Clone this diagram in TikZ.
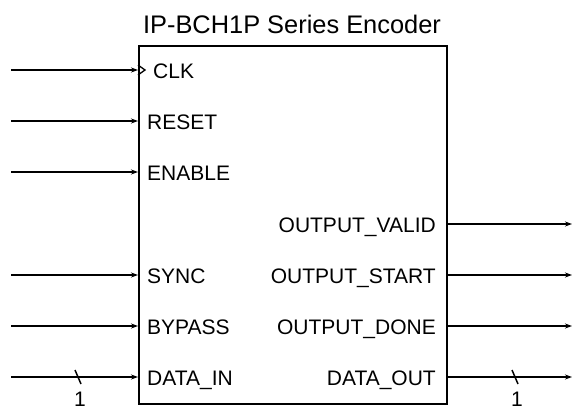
\documentclass[tikz,border=0pt]{standalone}
\usepackage{fontspec}
\setmainfont{Liberation Sans}
\usetikzlibrary{arrows.meta}
\begin{document}
\begin{tikzpicture}[x=1pt,y=-1pt,
  wire/.style={line width=1.5pt,-{Stealth[length=7pt,width=5pt]}},
  lbl/.style={inner sep=0pt,font=\fontsize{21}{21}\selectfont},
  busmark/.style={line width=1.5pt},
  busnum/.style={inner sep=0pt,font=\fontsize{21}{21}\selectfont}]
\useasboundingbox (0,0) rectangle (575,405);
% title
\node[inner sep=0pt,font=\fontsize{25.4}{25.4}\selectfont,anchor=base] (title) at (292,33) {IP-BCH1P Series Encoder};
% block
\node[draw,line width=2pt,minimum width=308pt,minimum height=358pt,inner sep=0pt,anchor=north west] (blk) at (138,45) {};
% input free ends
\coordinate (iclk) at (11,70);
\coordinate (irst) at (11,121);
\coordinate (ien) at (11,172);
\coordinate (isync) at (11,275);
\coordinate (ibyp) at (11,326);
\coordinate (idin) at (11,377);
% ports on block
\coordinate (pclk) at (blk.west |- iclk);
\coordinate (prst) at (blk.west |- irst);
\coordinate (pen) at (blk.west |- ien);
\coordinate (psync) at (blk.west |- isync);
\coordinate (pbyp) at (blk.west |- ibyp);
\coordinate (pdin) at (blk.west |- idin);
% output ports
\coordinate (pov) at (blk.east |- 0,224);
\coordinate (pos) at (blk.east |- 0,275);
\coordinate (pod) at (blk.east |- 0,326);
\coordinate (pdo) at (blk.east |- 0,377);
\coordinate (oov) at (572,224);
\coordinate (oos) at (572,275);
\coordinate (ood) at (572,326);
\coordinate (odo) at (572,377);
% input wires
\draw[wire] (iclk) -- (pclk);
\draw[wire] (irst) -- (prst);
\draw[wire] (ien) -- (pen);
\draw[wire] (isync) -- (psync);
\draw[wire] (ibyp) -- (pbyp);
\draw[wire] (idin) -- (pdin);
% output wires
\draw[wire] (pov) -- (oov);
\draw[wire] (pos) -- (oos);
\draw[wire] (pod) -- (ood);
\draw[wire] (pdo) -- (odo);
% clock triangle
\draw[line width=1.3pt] ([yshift=5pt]pclk) -- ++(7,5) -- ++(-7,5);
% bus marks
\draw[busmark] (75,370) -- (81,384);
\draw[busmark] (512,370) -- (518,384);
\node[busnum,anchor=base] (n1) at (80,406) {1};
\node[busnum,anchor=base] (n2) at (517,406) {1};
% input labels
\node[lbl,anchor=base west] (lclk) at (153,78) {CLK};
\node[lbl,anchor=base west] (lrst) at (147,129) {RESET};
\node[lbl,anchor=base west] (len) at (147,180) {ENABLE};
\node[lbl,anchor=base west] (lsync) at (147,283) {SYNC};
\node[lbl,anchor=base west] (lbyp) at (147,334) {BYPASS};
\node[lbl,anchor=base west] (ldin) at (147,385) {DATA\_IN};
% output labels
\node[lbl,anchor=base east] (lov) at (436,232) {OUTPUT\_VALID};
\node[lbl,anchor=base east] (los) at (436,283) {OUTPUT\_START};
\node[lbl,anchor=base east] (lod) at (436,334) {OUTPUT\_DONE};
\node[lbl,anchor=base east] (ldo) at (436,385) {DATA\_OUT};
\end{tikzpicture}
\end{document}
